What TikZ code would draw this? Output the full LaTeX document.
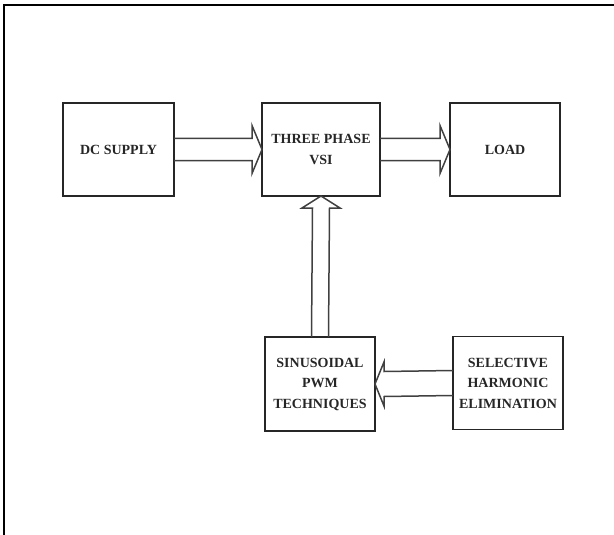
\documentclass[tikz,border=0pt]{standalone}
\usepackage{fontspec}
\setmainfont{Liberation Serif}
\usetikzlibrary{calc}

\begin{document}
\begin{tikzpicture}[
    x=1pt,y=-1pt,
    every node/.style={
        inner sep=0pt,
        outer sep=0pt,
    },
    block/.style={
        draw=black!85,rectangle,
        line width=1.6pt,
        minimum width=#1pt,
        minimum height=93pt,
        align=center,
        text=black!85,
        font=\bfseries\fontsize{14}{20.5}\selectfont,
    },
    block/.default=110,
    fat/.style={
        draw=black!75,
        line width=1.5pt,
        line join=miter,
    },
]
    \useasboundingbox (0,0) rectangle (614,535);
    % ~~~ frame ~~~~~~~~~~~~~~~~~~~~~~~~~~~~~~~~~~~~~~~~~~~~~~
    \draw[line width=1.2pt] (4,535) -- (4,5) -- (614,5);

    % ~~~ blocks ~~~~~~~~~~~~~~~~~~~~~~~~~~~~~~~~~~~~~~~~~~~~~
    \node[block=111] (dc)   at (118.5,149.5) {DC SUPPLY};
    \node[block=118] (vsi)  at (321,149.5)   {THREE PHASE\\VSI};
    \node[block]     (load) at (505,149.5)   {LOAD};
    \node[block=110,minimum height=94pt] (spwm) at (320,384) {SINUSOIDAL\\PWM\\TECHNIQUES};
    \node[block]     (she)  at (508,383)     {SELECTIVE\\HARMONIC\\ELIMINATION};

    % ~~~ hollow arrows ~~~~~~~~~~~~~~~~~~~~~~~~~~~~~~~~~~~~~~
    \draw[fat] ($(dc.east)+(0,-11)$) -- ($(vsi.west)+(-10,-11)$) -- ($(vsi.west)+(-10,-24)$)
        -- (vsi.west) -- ($(vsi.west)+(-10,24)$) -- ($(vsi.west)+(-10,11)$) -- ($(dc.east)+(0,11)$);
    \draw[fat] ($(vsi.east)+(0,-11)$) -- ($(load.west)+(-10,-11)$) -- ($(load.west)+(-10,-24)$)
        -- (load.west) -- ($(load.west)+(-10,24)$) -- ($(load.west)+(-10,11)$) -- ($(vsi.east)+(0,11)$);
    \draw[fat] ($(spwm.north)+(-8.5,0)$) -- ($(vsi.south)+(-8.5,12)$) -- ($(vsi.south)+(-19,12)$)
        -- (vsi.south) -- ($(vsi.south)+(19,12)$) -- ($(vsi.south)+(8.5,12)$) -- ($(spwm.north)+(8.5,0)$);
    \draw[fat] ($(she.west)+(0,-12.5)$) -- ($(spwm.east)+(9,-12.5)$) -- ($(spwm.east)+(9,-22)$)
        -- (spwm.east) -- ($(spwm.east)+(9,22)$) -- ($(spwm.east)+(9,12.5)$) -- ($(she.west)+(0,12.5)$);
\end{tikzpicture}
\end{document}
